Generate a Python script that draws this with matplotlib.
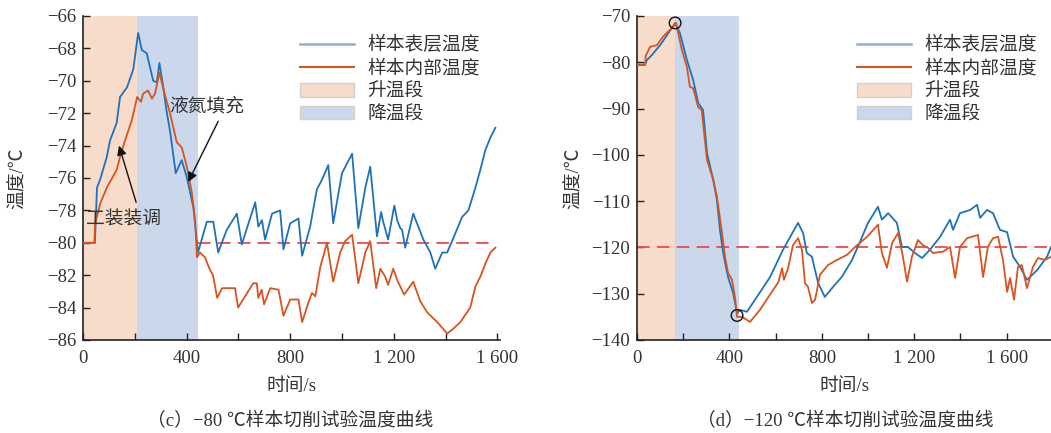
import matplotlib
matplotlib.use("Agg")
import matplotlib.pyplot as plt
from matplotlib.ticker import MultipleLocator, FuncFormatter
from matplotlib.patches import Patch
from matplotlib.lines import Line2D

plt.rcParams['font.family'] = ['Liberation Serif', 'Noto Sans CJK SC', 'DejaVu Sans']
plt.rcParams['axes.unicode_minus'] = True

# ---------------- data: (c) -80 C ----------------
t_c_surf = [0, 46, 54, 66, 92, 104, 130, 143, 170, 194, 213, 227, 246, 271, 285, 295, 310, 322, 337, 358,
            381, 400, 426, 444, 478, 503, 522, 555, 594, 613, 665, 677, 691, 703, 730, 761, 774, 800, 832, 846,
            877, 903, 923, 947, 966, 1000, 1039, 1063, 1090, 1109, 1135, 1151, 1159, 1178, 1202, 1213, 1225,
            1232, 1244, 1275, 1314, 1341, 1360, 1387, 1406, 1430, 1464, 1488, 1515, 1534, 1553, 1573, 1592]
v_c_surf = [-80, -80, -76.6, -76.1, -74.7, -73.7, -72.6, -71.0, -70.4, -69.3, -67.05, -68.1, -68.3, -70.0,
            -70.1, -68.9, -70.4, -71.8, -73.2, -75.7, -74.9, -75.9, -77.8, -80.6, -78.7, -78.7, -80.6, -79.2,
            -78.2, -80.1, -77.5, -79.0, -78.6, -79.8, -78.2, -78.0, -80.4, -78.8, -78.5, -80.8, -79.0, -76.7,
            -76.1, -75.2, -78.8, -75.7, -74.5, -79.1, -76.6, -75.3, -79.6, -78.1, -78.7, -79.8, -77.7, -78.6,
            -79.1, -79.2, -80.3, -78.2, -79.8, -80.6, -81.6, -80.6, -80.6, -79.7, -78.4, -78.0, -76.6, -75.5,
            -74.3, -73.5, -72.9]
t_c_core = [0, 44, 46, 66, 92, 130, 143, 162, 189, 209, 224, 232, 251, 266, 278, 295, 309, 322, 336, 362,
            381, 401, 420, 433, 440, 452, 471, 491, 502, 518, 537, 587, 599, 618, 657, 671, 677, 690, 699, 723,
            755, 774, 800, 832, 846, 870, 884, 897, 916, 942, 966, 993, 1012, 1039, 1063, 1090, 1109, 1132,
            1148, 1167, 1178, 1198, 1213, 1240, 1275, 1302, 1329, 1368, 1406, 1430, 1457, 1495, 1515, 1534,
            1553, 1573, 1592]
v_c_core = [-80, -80, -78.9, -77.6, -76.6, -75.5, -74.7, -73.7, -72.4, -71.0, -71.3, -70.8, -70.6, -71.1,
            -70.8, -69.5, -70.4, -71.2, -72.0, -73.8, -74.1, -75.3, -76.9, -78.6, -80.9, -80.6, -80.9, -81.7,
            -82.0, -83.4, -82.8, -82.8, -84.0, -83.5, -82.5, -82.5, -83.4, -82.9, -83.8, -82.8, -82.9, -84.5,
            -83.5, -83.5, -84.9, -83.7, -83.1, -83.3, -81.5, -80.0, -82.4, -80.6, -79.9, -79.5, -82.5, -80.6,
            -79.9, -82.8, -81.6, -82.1, -82.6, -81.6, -82.3, -83.2, -82.4, -83.6, -84.3, -84.9, -85.6, -85.3,
            -84.9, -84.0, -82.7, -82.1, -81.3, -80.6, -80.3]
c_heat = (0, 210)
c_cool = (210, 444)
c_target = -80
c_target_span = (444, 1592)

# ---------------- data: (d) -120 C ----------------
t_d_surf = [0, 35, 43, 65, 80, 100, 125, 145, 165, 186, 216, 243, 265, 286, 303, 330, 346, 359, 373, 394,
            416, 433, 446, 476, 519, 576, 632, 697, 719, 735, 757, 784, 813, 849, 886, 931, 965, 1000, 1043,
            1060, 1087, 1125, 1147, 1173, 1203, 1234, 1268, 1312, 1355, 1368, 1398, 1442, 1472, 1485, 1515,
            1541, 1571, 1602, 1628, 1658, 1688, 1732, 1775, 1792]
v_d_surf = [-80.5, -80.5, -79.5, -78.4, -77.5, -76.3, -74.5, -73.0, -71.5, -73.7, -79.5, -83.8, -88.8,
            -90.3, -99.6, -105.4, -109.7, -116.2, -121.2, -126.4, -129.8, -134.2, -133.5, -133.9, -130.7,
            -126.4, -120.5, -114.7, -116.9, -121.2, -122.0, -127.7, -130.7, -128.5, -126.4, -122.7, -118.8,
            -114.7, -111.2, -114.0, -112.6, -114.7, -119.9, -119.9, -121.2, -122.3, -120.5, -117.7, -114.0,
            -116.2, -112.6, -111.9, -110.8, -113.6, -111.9, -112.6, -116.2, -116.7, -122.0, -124.2, -127.0,
            -124.9, -122.0, -119.9]
t_d_core = [0, 35, 38, 56, 86, 112, 134, 156, 169, 194, 216, 229, 243, 265, 280, 303, 330, 346, 368, 381,
            394, 411, 424, 433, 455, 489, 532, 589, 612, 628, 636, 654, 675, 697, 714, 727, 740, 757, 771, 792,
            827, 866, 909, 944, 996, 1043, 1060, 1082, 1104, 1130, 1151, 1169, 1190, 1216, 1238, 1260, 1281,
            1325, 1355, 1377, 1398, 1429, 1476, 1498, 1519, 1541, 1563, 1584, 1602, 1615, 1632, 1649, 1666,
            1688, 1714, 1736, 1766, 1792]
v_d_core = [-80.6, -80.6, -78.6, -76.7, -76.3, -74.5, -73.4, -72.4, -71.5, -77.3, -81.0, -85.3, -85.6,
            -89.7, -90.3, -101.1, -105.4, -109.0, -116.9, -122.0, -125.5, -127.0, -130.7, -135.0, -135.0,
            -136.1, -133.5, -129.2, -127.5, -124.5, -127.0, -124.5, -119.5, -118.0, -120.5, -127.7, -128.5,
            -132.0, -131.3, -125.9, -123.8, -122.7, -121.6, -119.9, -117.7, -115.1, -121.2, -124.4, -119.1,
            -116.9, -122.0, -127.4, -122.0, -118.4, -119.5, -120.1, -121.2, -120.9, -119.9, -126.6, -119.9,
            -118.0, -117.3, -126.4, -119.9, -118.0, -117.7, -122.7, -129.6, -126.6, -131.3, -124.2, -123.8,
            -128.8, -124.2, -122.3, -122.7, -122.0]
d_heat = (0, 164)
d_cool = (164, 441)
d_target = -120
d_marks_t = [165, 433]
d_marks_v = [-71.5, -134.7]

labels = ['样本表层温度', '样本内部温度', '升温段', '降温段']

BLUE = '#1f72b8'
RED = '#d8541f'
HEAT = '#f8dccb'
COOL = '#cbd8ec'
DASH = '#ee4a4a'
TXT = '#333333'
FS = 13.5

fig = plt.figure(figsize=(10.51, 4.33), dpi=100)
axL = fig.add_axes([83/1051, 93/433, 417/1051, 324/433])
axR = fig.add_axes([637/1051, 93/433, 414/1051, 324/433])


def fmt(v, pos):
    iv = int(round(v))
    s = f"{abs(iv):,}".replace(",", " ")
    return ("\u2212" + s) if iv < 0 else s


def style(ax, xmax, ylim, ystep, ypad):
    for s in ['top', 'right']:
        ax.spines[s].set_visible(False)
    for s in ['left', 'bottom']:
        ax.spines[s].set_linewidth(1.2)
        ax.spines[s].set_color('#222222')
    ax.set_xlim(0, xmax)
    ax.set_ylim(*ylim)
    ax.xaxis.set_major_locator(MultipleLocator(400))
    ax.xaxis.set_minor_locator(MultipleLocator(200))
    ax.yaxis.set_major_locator(MultipleLocator(ystep))
    ax.xaxis.set_major_formatter(FuncFormatter(fmt))
    ax.yaxis.set_major_formatter(FuncFormatter(fmt))
    ax.tick_params(which='both', direction='in', length=5, width=1, colors='#222222',
                   labelsize=13.5, labelcolor=TXT)
    ax.tick_params(axis='x', pad=7)
    ax.tick_params(axis='y', pad=5)
    ax.set_xlabel('时间/s', fontsize=FS, color=TXT, labelpad=8)
    ax.set_ylabel('温度/℃', fontsize=FS, color=TXT, labelpad=ypad)


def legend(ax, x0):
    handles = [Line2D([], [], color='#8fb0d8', lw=1.8),
               Line2D([], [], color=RED, lw=1.5),
               Patch(facecolor=HEAT, edgecolor='#d0d0d0'),
               Patch(facecolor=COOL, edgecolor='#d0d0d0')]
    leg = ax.legend(handles, labels, loc='upper left', bbox_to_anchor=(x0, 0.99), frameon=False,
                    fontsize=FS, handlelength=2.9, handletextpad=0.7, labelspacing=0.3)
    for t in leg.get_texts():
        t.set_color(TXT)


# ---- left panel
axL.axvspan(*c_heat, color=HEAT, lw=0, zorder=0)
axL.axvspan(*c_cool, color=COOL, lw=0, zorder=0)
axL.plot(t_c_surf, v_c_surf, color=BLUE, lw=1.3, zorder=3)
axL.plot(t_c_core, v_c_core, color=RED, lw=1.3, zorder=3)
axL.plot(c_target_span, [c_target, c_target], color=DASH, lw=1.3, dashes=(7, 4), zorder=2)
style(axL, 1610, (-86, -66), 2, 14)
legend(axL, 0.48)
axL.text(478, -71.6, '液氮填充', fontsize=FS, color=TXT, ha='center', va='center', zorder=5)
axL.annotate('', xy=(406, -76.25), xytext=(522, -72.5),
             arrowprops=dict(arrowstyle='-|>', color='#111111', lw=1.0, shrinkA=0, shrinkB=0,
                             mutation_scale=14))
axL.text(155, -78.6, '工装装调', fontsize=FS, color=TXT, ha='center', va='center', zorder=5)
axL.annotate('', xy=(139, -74.0), xytext=(205, -77.5),
             arrowprops=dict(arrowstyle='-|>', color='#111111', lw=1.0, shrinkA=0, shrinkB=0,
                             mutation_scale=14))

# ---- right panel
axR.axvspan(*d_heat, color=HEAT, lw=0, zorder=0)
axR.axvspan(*d_cool, color=COOL, lw=0, zorder=0)
axR.plot(t_d_surf, v_d_surf, color=BLUE, lw=1.3, zorder=3)
axR.plot(t_d_core, v_d_core, color=RED, lw=1.3, zorder=3)
axR.axhline(d_target, color=DASH, lw=1.3, dashes=(7, 4), zorder=2)
axR.scatter(d_marks_t, d_marks_v, s=70, facecolors='none', edgecolors='#111111', lw=1.0, zorder=4)
style(axR, 1792, (-140, -70), 10, 6)
legend(axR, 0.49)

fig.text(290/1051, 1 - 421/433, '（c）−80 ℃样本切削试验温度曲线', ha='center', va='center',
         fontsize=FS, color=TXT)
fig.text(845/1051, 1 - 421/433, '（d）−120 ℃样本切削试验温度曲线', ha='center', va='center',
         fontsize=FS, color=TXT)

fig.savefig('out.png', dpi=100)
